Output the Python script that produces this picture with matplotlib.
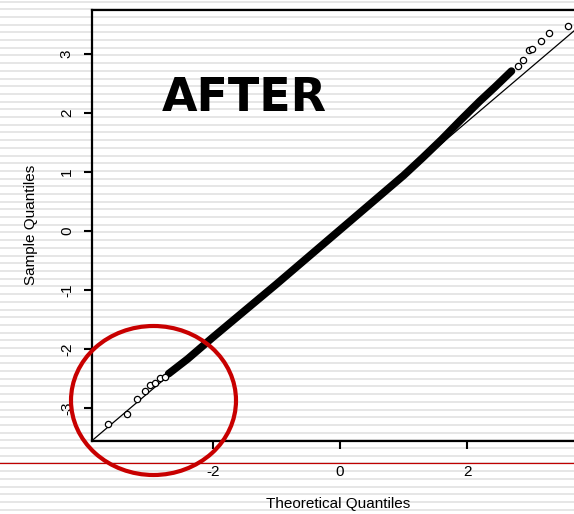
import matplotlib
matplotlib.use("Agg")
import matplotlib.pyplot as plt
from matplotlib.patches import Ellipse
import numpy as np

# ---- data ----
tail_low_theoretical = [-3.65, -3.35, -3.2, -3.07, -2.99, -2.91, -2.83, -2.76]
tail_low_sample = [-3.27, -3.10, -2.84, -2.72, -2.61, -2.58, -2.49, -2.47]

dense_theoretical = [-2.7, -2.4, -2.0, -1.5, -1.0, -0.5, 0.0, 0.5, 1.0, 1.3, 1.6, 1.9, 2.2, 2.45, 2.7]
dense_sample = [-2.42, -2.17, -1.80, -1.35, -0.90, -0.44, 0.02, 0.48, 0.94, 1.24, 1.55, 1.88, 2.20, 2.45, 2.71]

tail_high_theoretical = [2.80, 2.88, 2.98, 3.03, 3.17, 3.29, 3.59]
tail_high_sample = [2.80, 2.90, 3.07, 3.08, 3.22, 3.36, 3.47]

qqline_intercept = 0.02
qqline_slope = 0.915

x_ticks = [-2, 0, 2]
y_ticks = [-3, -2, -1, 0, 1, 2, 3]

W, H = 574, 514
fig = plt.figure(figsize=(W / 100, H / 100), dpi=100)
fig.patch.set_facecolor("white")

# striped background
bg = fig.add_axes([0, 0, 1, 1], zorder=0)
bg.set_xlim(0, W)
bg.set_ylim(H, 0)
bg.axis("off")
for yy in np.arange(1.5, H, 7.7):
    bg.axhline(yy, color="#e2e2e2", lw=1.2)

ax = fig.add_axes([92 / W, (H - 441) / H, (W - 92) / W, 431 / H], zorder=1)
ax.patch.set_alpha(0)
ax.set_xlim(-3.906, 3.685)
ax.set_ylim(-3.56, 3.746)

font = "Liberation Sans"

# reference line
xl = np.array(ax.get_xlim())
ax.plot(xl, qqline_intercept + qqline_slope * xl, color="black", lw=0.9, zorder=2)

# dense middle of the points
ax.plot(dense_theoretical, dense_sample, color="black", lw=5.5, solid_capstyle="round",
        solid_joinstyle="round", zorder=3)
# sparse tails
ax.plot(tail_low_theoretical, tail_low_sample, ls="none", marker="o", ms=4.5, mfc="white",
        mec="black", mew=0.9, zorder=4)
ax.plot(tail_high_theoretical, tail_high_sample, ls="none", marker="o", ms=4.5, mfc="white",
        mec="black", mew=0.9, zorder=4)

for s in ["left", "bottom", "top"]:
    ax.spines[s].set_linewidth(1.6)
ax.spines["right"].set_visible(False)

ax.set_xticks(x_ticks)
ax.set_xticklabels([str(v) for v in x_ticks], fontfamily=font, fontsize=11)
ax.set_yticks(y_ticks)
ax.set_yticklabels([str(v) for v in y_ticks], fontfamily=font, fontsize=11, rotation=90, va="center")
ax.tick_params(axis="x", direction="out", length=6, width=1.5, pad=11)
ax.tick_params(axis="y", direction="out", length=6, width=1.5, pad=7)

fig.text(338 / W, 1 - 504 / H, "Theoretical Quantiles", ha="center", va="center",
         fontfamily=font, fontsize=11)
fig.text(31 / W, 1 - 225 / H, "Sample Quantiles", ha="center", va="center", rotation=90,
         fontfamily=font, fontsize=11)

fig.text(162 / W, 1 - 111 / H, "AFTER", ha="left", va="baseline", fontfamily="DejaVu Sans",
         fontweight="bold", fontsize=33, zorder=5)

# overlay annotations
ov = fig.add_axes([0, 0, 1, 1], zorder=3)
ov.set_xlim(0, W)
ov.set_ylim(H, 0)
ov.axis("off")
ov.axhline(463, color="#c00000", lw=0.9)
ov.add_patch(Ellipse((153.5, 400.5), 165, 149, fill=False, edgecolor="#c80000", lw=3))

fig.savefig("out.png", dpi=100)
